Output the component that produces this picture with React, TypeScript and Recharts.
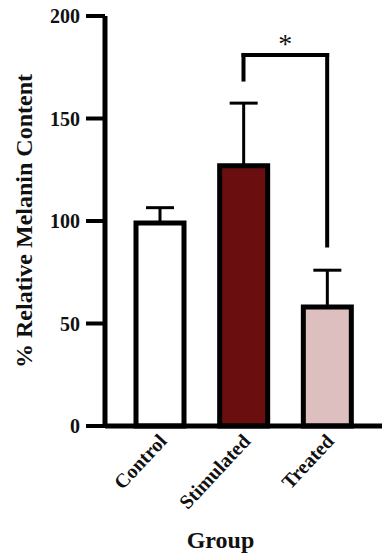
import React from 'react';
import { BarChart, Bar, XAxis, YAxis, Cell, ErrorBar, ReferenceLine } from 'recharts';

const groups = ['Control', 'Stimulated', 'Treated'];
const means = [99, 127, 58];
const errUpper = [7.5, 30.5, 18];
const fills = ['#ffffff', '#6b0e10', '#dcbfbe'];
const yTicks = [0, 50, 100, 150, 200];
const bracket = { from: 'Stimulated', to: 'Treated', top: 181, leftEnd: 169, rightEnd: 88, label: '*' };

const data = groups.map((g, i) => ({ group: g, value: means[i], err: [0, errUpper[i]] }));

const FONT = '"Liberation Serif", "Times New Roman", serif';

const XTick = (props: any) => {
  const { x, y, payload } = props;
  const px = x + 8;
  const py = y + 16;
  return (
    <text
      x={px}
      y={py}
      transform={`rotate(-47 ${px} ${py})`}
      textAnchor="end"
      fontFamily={FONT}
      fontWeight="bold"
      fontSize={20}
      fill="#111"
    >
      {payload.value}
    </text>
  );
};

export default function App() {
  return (
    <div style={{ position: 'absolute', left: 0, top: 0, background: '#fff' }}>
      <BarChart
        width={382}
        height={553}
        data={data}
        margin={{ top: 16, right: 0, bottom: 0, left: 0 }}
        barSize={48}
      >
        <XAxis
          dataKey="group"
          height={127}
          padding={{ left: 13, right: 13 }}
          axisLine={{ stroke: '#000', strokeWidth: 5 }}
          tickLine={false}
          tickSize={0}
          tickMargin={0}
          interval={0}
          tick={<XTick />}
          label={{
            content: (p: any) => {
              const vb = p.viewBox;
              return (
                <text
                  x={vb.x + vb.width / 2 - 23}
                  y={vb.y + vb.height - 5}
                  textAnchor="middle"
                  fontFamily={FONT}
                  fontWeight="bold"
                  fontSize={24}
                  fill="#111"
                >
                  Group
                </text>
              );
            },
          }}
        />
        <YAxis
          width={105}
          domain={[0, 200]}
          ticks={yTicks}
          interval={0}
          axisLine={{ stroke: '#000', strokeWidth: 5 }}
          tickLine={{ stroke: '#000', strokeWidth: 4 }}
          tickSize={19}
          tickMargin={6}
          tick={{ fontFamily: FONT, fontWeight: 'bold', fontSize: 20, fill: '#111' }}
          label={{
            content: (p: any) => {
              const vb = p.viewBox;
              const cx = vb.x + 32;
              const cy = vb.y + vb.height / 2;
              return (
                <text
                  x={cx}
                  y={cy}
                  transform={`rotate(-90 ${cx} ${cy})`}
                  textAnchor="middle"
                  fontFamily={FONT}
                  fontWeight="bold"
                  fontSize={24}
                  fill="#111"
                >
                  % Relative Melanin Content
                </text>
              );
            },
          }}
        />
        <Bar dataKey="value" stroke="#000" strokeWidth={5} isAnimationActive={false}>
          {data.map((d, i) => (
            <Cell key={d.group} fill={fills[i]} />
          ))}
          <ErrorBar dataKey="err" width={14} stroke="#000" strokeWidth={3} direction="y" />
        </Bar>
        <ReferenceLine
          segment={[{ x: bracket.from, y: bracket.leftEnd }, { x: bracket.from, y: bracket.top }]}
          stroke="#000"
          strokeWidth={4}
          strokeLinecap="square"
        />
        <ReferenceLine
          segment={[{ x: bracket.from, y: bracket.top }, { x: bracket.to, y: bracket.top }]}
          stroke="#000"
          strokeWidth={4}
          strokeLinecap="square"
          label={{ value: bracket.label, position: 'top', offset: 2, fontSize: 28, fontFamily: FONT, fill: '#111' }}
        />
        <ReferenceLine
          segment={[{ x: bracket.to, y: bracket.top }, { x: bracket.to, y: bracket.rightEnd }]}
          stroke="#000"
          strokeWidth={4}
          strokeLinecap="square"
        />
      </BarChart>
    </div>
  );
}
